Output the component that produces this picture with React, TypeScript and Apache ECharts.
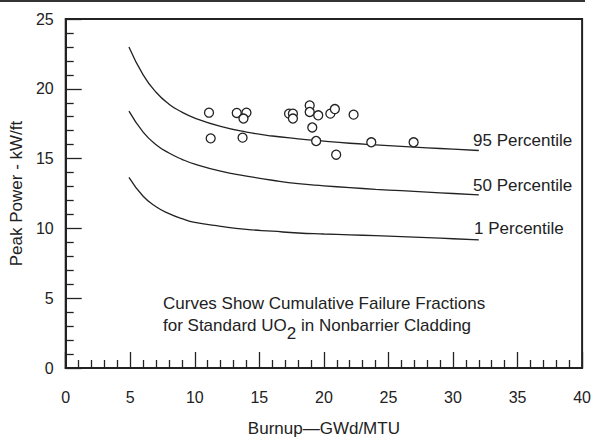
import React, { useEffect, useRef } from "react";
import * as echarts from "echarts";

const burnupGrid = [4.9, 6, 7, 8, 9, 10, 12, 14, 16, 18, 20, 22, 24, 26, 28, 30, 32];
const p95 = [23.0, 21.0, 19.75, 18.9, 18.33, 17.9, 17.3, 16.9, 16.62, 16.42, 16.25, 16.1, 15.98, 15.87, 15.77, 15.68, 15.58];
const p50 = [18.4, 16.9, 16.0, 15.4, 14.95, 14.6, 14.1, 13.75, 13.45, 13.2, 13.05, 12.92, 12.8, 12.7, 12.6, 12.5, 12.4];
const p1 = [13.65, 12.3, 11.55, 11.06, 10.7, 10.43, 10.15, 9.93, 9.8, 9.67, 9.6, 9.54, 9.48, 9.41, 9.34, 9.26, 9.18];

const failureX = [11.1, 11.23, 13.25, 14.0, 13.77, 13.7, 17.3, 17.6, 17.6, 18.9, 18.9, 19.56, 19.1, 19.4, 20.5, 20.85, 20.95, 22.3, 23.67, 26.95];
const failureY = [18.29, 16.45, 18.27, 18.29, 17.87, 16.5, 18.22, 18.22, 17.87, 18.81, 18.34, 18.1, 17.23, 16.26, 18.22, 18.55, 15.28, 18.15, 16.17, 16.17];

const curveLabels = ["95 Percentile", "50 Percentile", "1 Percentile"];
const noteLine1 = "Curves Show Cumulative Failure Fractions";
const noteLine2a = "for Standard UO";
const noteLine2sub = "2";
const noteLine2b = " in Nonbarrier Cladding";

const FONT = '"Liberation Sans", Arial, Helvetica, sans-serif';
const INK = "#222";

function measure(text: string, size: number): number {
  const c = document.createElement("canvas");
  const ctx = c.getContext("2d");
  if (!ctx) return text.length * size * 0.5;
  ctx.font = `${size}px "Liberation Sans", Arial, sans-serif`;
  return ctx.measureText(text).width;
}

export default function App() {
  const ref = useRef<HTMLDivElement>(null);
  useEffect(() => {
    if (!ref.current) return;
    const chart = echarts.init(ref.current, undefined, { renderer: "svg" });
    const curve = (vals: number[]) => ({
      type: "line",
      data: burnupGrid.map((x, i) => [x, vals[i]]),
      smooth: 0.5,
      showSymbol: false,
      symbol: "none",
      lineStyle: { color: INK, width: 1.3 },
      silent: true,
    });
    const fs = 17;
    const w1 = measure(noteLine2a, fs);
    const w2 = measure(noteLine2sub, fs);
    const noteX = 163;
    const textStyle = (text: string, x: number, y: number) => ({
      type: "text",
      x,
      y,
      style: {
        text,
        fill: INK,
        font: `${fs}px ${FONT}`,
        textVerticalAlign: "middle",
        verticalAlign: "middle",
        textAlign: "left",
        align: "left",
      },
    });
    chart.setOption({
      animation: false,
      grid: {
        left: 65,
        right: 9,
        top: 19,
        bottom: 69,
        show: true,
        borderColor: INK,
        borderWidth: 2,
        backgroundColor: "transparent",
      },
      xAxis: {
        type: "value",
        min: 0,
        max: 40,
        interval: 5,
        name: "Burnup\u2014GWd/MTU",
        nameLocation: "middle",
        nameGap: 52,
        nameTextStyle: { color: INK, fontSize: 17, fontFamily: FONT },
        axisLine: { show: true, lineStyle: { color: INK, width: 2 } },
        axisTick: { show: true, inside: true, length: 16, lineStyle: { color: INK, width: 1.3 } },
        minorTick: { show: true, splitNumber: 5, length: 8, lineStyle: { color: INK, width: 1.3 } },
        axisLabel: { color: INK, fontSize: 16, fontFamily: FONT, margin: 21 },
        splitLine: { show: false },
        minorSplitLine: { show: false },
      },
      yAxis: {
        type: "value",
        min: 0,
        max: 25,
        interval: 5,
        name: "Peak Power - kW/ft",
        nameLocation: "middle",
        nameGap: 37,
        nameTextStyle: { color: INK, fontSize: 17, fontFamily: FONT },
        axisLine: { show: true, lineStyle: { color: INK, width: 2 } },
        axisTick: { show: true, inside: true, length: 16, lineStyle: { color: INK, width: 1.3 } },
        minorTick: { show: true, splitNumber: 5, length: 8, lineStyle: { color: INK, width: 1.3 } },
        axisLabel: { color: INK, fontSize: 16, fontFamily: FONT, margin: 12 },
        splitLine: { show: false },
        minorSplitLine: { show: false },
      },
      series: [
        curve(p95),
        curve(p50),
        curve(p1),
        {
          type: "scatter",
          data: failureX.map((x, i) => [x, failureY[i]]),
          symbol: "circle",
          symbolSize: 9,
          itemStyle: { color: "#fff", borderColor: INK, borderWidth: 1.3, opacity: 1 },
          z: 5,
        },
      ],
      graphic: [
        {
          type: "line",
          shape: { x1: 0, y1: 1, x2: 585, y2: 1 },
          style: { stroke: "#333", lineWidth: 2 },
        },
        textStyle(curveLabels[0], 473, 140),
        textStyle(curveLabels[1], 473, 185),
        textStyle(curveLabels[2], 474, 228),
        textStyle(noteLine1, noteX, 303),
        textStyle(noteLine2a, noteX, 325),
        textStyle(noteLine2sub, noteX + w1, 333),
        textStyle(noteLine2b, noteX + w1 + w2, 325),
      ],
    });
    return () => chart.dispose();
  }, []);
  return (
    <div
      ref={ref}
      style={{ position: "fixed", left: 0, top: 0, width: 594, height: 442, background: "#fff" }}
    />
  );
}
